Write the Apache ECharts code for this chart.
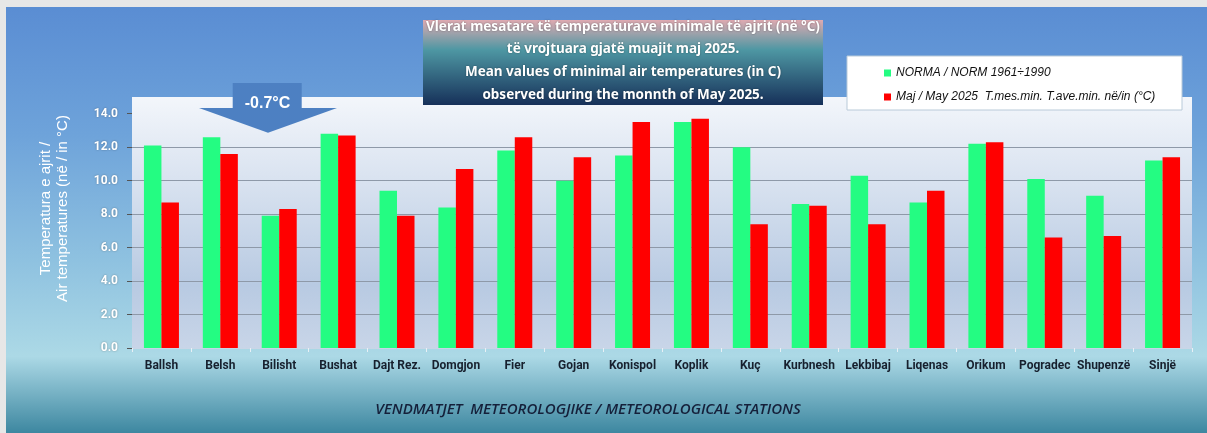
<!DOCTYPE html>
<html>
<head>
<meta charset="utf-8">
<script src="https://cdn.jsdelivr.net/npm/echarts@6/dist/echarts.min.js"></script>
<style>
  html, body { margin: 0; padding: 0; background: #e7e7e7; }
  #chart { position: absolute; left: 6px; top: 7px; width: 1201px; height: 426px; }
</style>
</head>
<body>
<div id="chart"></div>
<script>
// stacionet / stations
const stations = ['Ballsh', 'Belsh', 'Bilisht', 'Bushat', 'Dajt Rez.', 'Domgjon', 'Fier', 'Gojan', 'Konispol',
  'Koplik', 'Kuç', 'Kurbnesh', 'Lekbibaj', 'Liqenas', 'Orikum', 'Pogradec', 'Shupenzë', 'Sinjë'];
// NORMA 1961-1990
const norma = [12.1, 12.6, 7.9, 12.8, 9.4, 8.4, 11.8, 10.0, 11.5, 13.5, 12.0, 8.6, 10.3, 8.7, 12.2, 10.1, 9.1, 11.2];
// maj 2025
const may2025 = [8.7, 11.6, 8.3, 12.7, 7.9, 10.7, 12.6, 11.4, 13.5, 13.7, 7.4, 8.5, 7.4, 9.4, 12.3, 6.6, 6.7, 11.4];
const yTicks = [0, 2, 4, 6, 8, 10, 12, 14];
const seriesNames = ['NORMA / NORM 1961÷1990', 'Maj / May 2025  T.mes.min. T.ave.min. në/in (°C)'];
const anomalyText = '-0.7°C';

const narrow = "Roboto, 'Liberation Sans', sans-serif";

const chart = echarts.init(document.getElementById('chart'));

const grad = (stops) => ({
  type: 'linear', x: 0, y: 0, x2: 0, y2: 1,
  colorStops: stops.map(s => ({ offset: s[0], color: s[1] }))
});

const option = {
  backgroundColor: grad([[0, '#5a8dd3'], [0.3, '#6ea3da'], [0.6, '#8fc2e0'], [0.82, '#acd9e6'], [1, '#3d87a0']]),
  animation: false,
  grid: {
    left: 126, top: 90, right: 15, bottom: 85,
    show: true, borderWidth: 0,
    backgroundColor: grad([[0, '#f3f6fb'], [0.75, '#b8cae2'], [1, '#c8d5e8']])
  },
  legend: {
    orient: 'vertical',
    left: 873, top: 55, z: 8,
    itemWidth: 7, itemHeight: 7, itemGap: 12,
    icon: 'rect',
    data: seriesNames,
    textStyle: { fontFamily: "'Liberation Sans', Arial, sans-serif", fontStyle: 'italic', fontSize: 12, color: '#111' }
  },
  xAxis: {
    type: 'category',
    data: stations,
    axisLine: { show: true, lineStyle: { color: '#c9d6e6' } },
    axisTick: { show: true, length: 4, lineStyle: { color: '#e8f0f6' } },
    axisLabel: {
      interval: 0, margin: 12,
      fontFamily: narrow, fontWeight: 'bold', fontSize: 12, color: '#17202e'
    }
  },
  yAxis: {
    type: 'value',
    min: 0, max: 15, interval: 2,
    name: 'Temperatura e ajrit /\nAir temperatures (në / in °C)',
    nameLocation: 'middle',
    nameRotate: 90,
    nameGap: 61,
    nameTextStyle: {
      color: '#fff', fontFamily: "'Liberation Sans', Arial, sans-serif", fontSize: 15, lineHeight: 17,
      padding: [0, 0, 0, 28]
    },
    axisLine: { show: false },
    axisTick: { show: true, length: 5, customValues: yTicks, lineStyle: { color: '#555' } },
    axisLabel: {
      customValues: yTicks,
      margin: 14,
      formatter: v => v.toFixed(1),
      fontFamily: narrow, fontWeight: 'bold', fontSize: 12, color: '#fff',
      textShadowColor: 'rgba(0,0,0,0.35)', textShadowBlur: 2
    },
    splitLine: { show: true, showMaxLine: false, lineStyle: { color: '#8e99a8', width: 1 } }
  },
  series: [
    {
      name: seriesNames[0], type: 'bar', data: norma,
      barWidth: 17.5, barGap: '0%',
      itemStyle: { color: '#24fc82' }
    },
    {
      name: seriesNames[1], type: 'bar', data: may2025,
      barWidth: 17.5,
      itemStyle: { color: '#ff0000' }
    }
  ],
  graphic: [
    // kutia e titullit
    {
      type: 'rect', z: 10,
      shape: { x: 417, y: 13, width: 400, height: 85 },
      style: { fill: grad([[0, '#dfaab1'], [0.35, '#4e97a3'], [1, '#163059']]) }
    },
    {
      type: 'text', z: 11, x: 617, y: 54,
      style: {
        text: 'Vlerat mesatare të temperaturave minimale të ajrit (në °C)\ntë vrojtuara gjatë muajit maj 2025.\nMean values of minimal air temperatures (in C)\nobserved during the monnth of May 2025.',
        align: 'center', verticalAlign: 'middle', lineHeight: 22.8,
        fontFamily: "'Noto Sans', 'Open Sans', sans-serif", fontWeight: 'bold', fontSize: 13.5,
        fill: '#fff', textShadowColor: 'rgba(0,0,0,0.4)', textShadowBlur: 2
      }
    },
    // kutia e legjendes
    {
      type: 'rect', z: 3,
      shape: { x: 841, y: 49, width: 335, height: 54 },
      style: { fill: '#fff', stroke: '#b9cad9', lineWidth: 1 }
    },
    // shigjeta e anomalise
    {
      type: 'polygon', z: 10,
      shape: { points: [[226.7, 76], [295.7, 76], [295.7, 101], [331, 101], [262, 125.7], [193, 101], [226.7, 101]] },
      style: { fill: '#4d80c2' }
    },
    {
      type: 'text', z: 11, x: 261.5, y: 97,
      style: {
        text: anomalyText, align: 'center', verticalAlign: 'middle',
        fontFamily: "'Liberation Sans', Arial, sans-serif", fontWeight: 'bold', fontSize: 16, fill: '#fff'
      }
    },
    {
      type: 'text', z: 11, x: 582, y: 403,
      style: {
        text: 'VENDMATJET  METEOROLOGJIKE / METEOROLOGICAL STATIONS',
        align: 'center', verticalAlign: 'middle',
        fontFamily: "'Open Sans', 'Noto Sans', sans-serif", fontStyle: 'italic', fontWeight: 600, fontSize: 15,
        fill: '#15203a'
      }
    }
  ]
};

chart.setOption(option);
</script>
</body>
</html>
